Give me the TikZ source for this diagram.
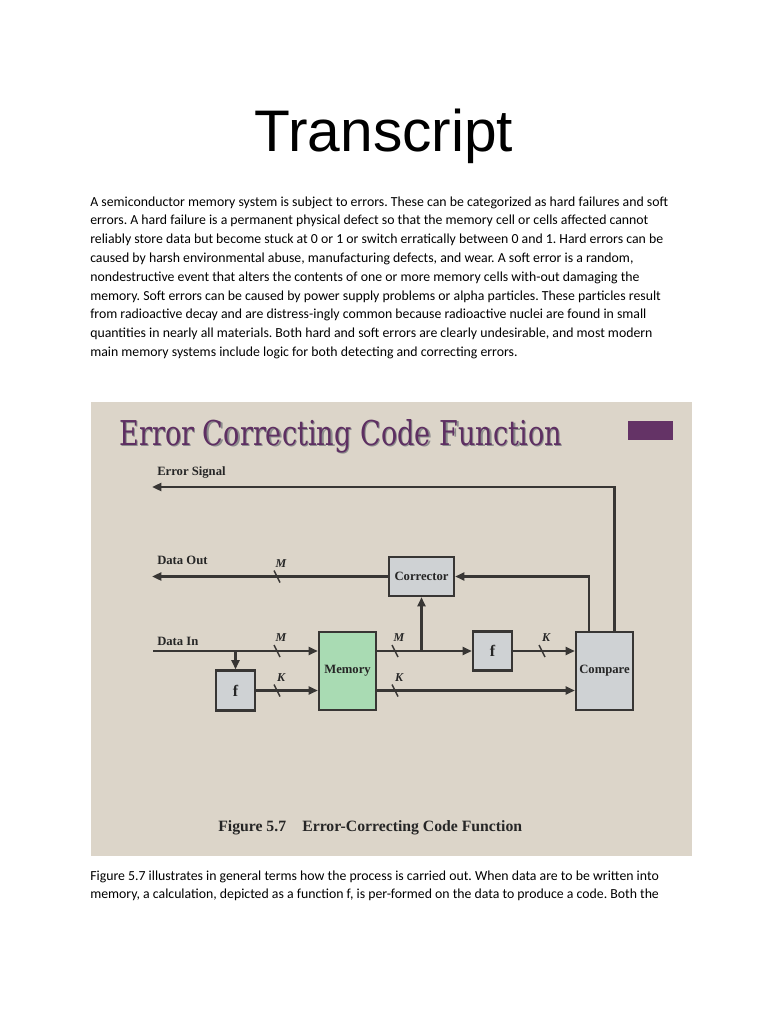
\documentclass[tikz,border=0pt]{standalone}
\usepackage{fontspec}
\setmainfont{Carlito}
\newfontfamily\arialf{Liberation Sans}
\newfontfamily\timesf{Liberation Serif}
\newfontfamily\slabf{DejaVu Serif}
\usetikzlibrary{arrows.meta}
\definecolor{bgbeige}{HTML}{DCD5C9}
\definecolor{boxgray}{HTML}{CFD2D4}
\definecolor{memgreen}{HTML}{A9DBB3}
\definecolor{wirecol}{HTML}{383634}
\definecolor{ttlpurple}{HTML}{5E2F62}
\definecolor{rectpurple}{HTML}{643366}
\tikzset{
  body/.style={anchor=base west, inner sep=0pt, font=\frenchspacing\fontsize{10.35}{12}\selectfont},
  wire/.style={draw=wirecol, line width=1.7pt},
  arr/.style={-{Triangle[length=7pt,width=6pt]}},
  gbox/.style={draw=wirecol, fill=boxgray, line width=1.7pt, inner sep=0pt,
    font=\timesf\bfseries\fontsize{9.5}{11}\selectfont, text=black!85},
  lbl/.style={anchor=base west, inner sep=0pt, font=\timesf\bfseries\fontsize{9.5}{11}\selectfont, text=black!85},
  buslbl/.style={inner sep=0pt, font=\timesf\bfseries\itshape\fontsize{9}{10}\selectfont, text=black!85},
  slash/.style={draw=wirecol, line width=1.1pt}
}
\newcommand{\busmark}[3]{%
  \draw[slash] (#1-3,#2-6) -- (#1+3,#2+6);
  \node[buslbl] at (#1+4,#2-13) {#3};
}
\begin{document}
\begin{tikzpicture}[x=0.75pt,y=-0.75pt]
\useasboundingbox (0,0) rectangle (768,1024);
\fill[white] (0,0) rectangle (768,1024);

% page title
\node[anchor=base, inner sep=0pt, font=\arialf\fontsize{44}{50}\selectfont] (ttl) at (384,151) {Transcript};

% first paragraph
\node[body] (p1) at (90,206) {A semiconductor memory system is subject to errors. These can be categorized as hard failures and soft};
\node[body] (p2) at (90,224.8) {errors. A hard failure is a permanent physical defect so that the memory cell or cells affected cannot};
\node[body] (p3) at (90,243.6) {reliably store data but become stuck at 0 or 1 or switch erratically between 0 and 1. Hard errors can be};
\node[body] (p4) at (90,262.4) {caused by harsh environmental abuse, manufacturing defects, and wear. A soft error is a random,};
\node[body] (p5) at (90,281.2) {nondestructive event that alters the contents of one or more memory cells with-out damaging the};
\node[body] (p6) at (90,300) {memory. Soft errors can be caused by power supply problems or alpha particles. These particles result};
\node[body] (p7) at (90,318.8) {from radioactive decay and are distress-ingly common because radioactive nuclei are found in small};
\node[body] (p8) at (90,337.6) {quantities in nearly all materials. Both hard and soft errors are clearly undesirable, and most modern};
\node[body] (p9) at (90,356.4) {main memory systems include logic for both detecting and correcting errors.};

% figure background
\fill[bgbeige] (91,402) rectangle (692,856);
\fill[rectpurple] (628,421) rectangle (673,440);
\node[anchor=base west, inner sep=0pt, text=black!45] (ecsh) at (120.5,446.5)
  {\resizebox{332pt}{19.5pt}{\slabf Error Correcting Code Function}};
\node[anchor=base west, inner sep=0pt, text=ttlpurple] (ec) at (119,445)
  {\resizebox{332pt}{19.5pt}{\slabf Error Correcting Code Function}};

% boxes
\node[gbox, minimum width=48.75pt, minimum height=29.25pt] (corr) at (421.5,576.5) {Corrector};
\node[gbox, fill=memgreen, minimum width=42.75pt, minimum height=58.5pt] (mem) at (347.5,671) {Memory};
\node[gbox, minimum width=29.25pt, minimum height=30pt, font=\timesf\bfseries\fontsize{12}{14}\selectfont] (fL) at (235.5,690.5) {f};
\node[gbox, minimum width=29.25pt, minimum height=29.25pt, font=\timesf\bfseries\fontsize{12}{14}\selectfont] (fR) at (492.5,651) {f};
\node[gbox, minimum width=42.75pt, minimum height=58.5pt] (comp) at (604.5,671) {Compare};

% labels
\node[lbl] (les) at (157,475) {Error Signal};
\node[lbl] (ldo) at (157,564) {Data Out};
\node[lbl] (ldi) at (157,645) {Data In};

% free ends
\coordinate (es) at (152,487);
\coordinate (dout) at (152,576.5);
\coordinate (din) at (153,651);

% connectors
\draw[wire,arr] (din) -- (mem.west |- din);
\draw[wire,arr] (fL.north |- din) -- (fL.north);
\draw[wire,arr] (fL.east) -- (fL.east -| mem.west);
\draw[wire,arr] (mem.east |- fR.west) -- (fR.west);
\draw[wire,arr] (mem.east |- fL.east) -- (comp.west |- fL.east);
\draw[wire,arr] (fR.east) -- (comp.west |- fR.east);
\draw[wire,arr] (corr.south |- fR.west) -- (corr.south);
\draw[wire,arr] ([xshift=-11.6pt]comp.north) |- (corr.east);
\draw[wire,arr] ([xshift=7.5pt]comp.north) |- (es);
\draw[wire,arr] (corr.west) -- (dout);

% bus width marks
\busmark{277}{576.5}{M}
\busmark{277}{651}{M}
\busmark{277}{690.5}{K}
\busmark{395}{651}{M}
\busmark{395}{690.5}{K}
\busmark{542}{651}{K}

% caption
\node[anchor=base west, inner sep=0pt, font=\timesf\bfseries\fontsize{11.8}{14}\selectfont, text=black!85] (cap1) at (218,831) {Figure 5.7};
\node[anchor=base west, inner sep=0pt, font=\timesf\bfseries\fontsize{11.8}{14}\selectfont, text=black!85] (cap2) at (302,831) {Error-Correcting Code Function};

% second paragraph
\node[body] (q1) at (90,880) {Figure 5.7 illustrates in general terms how the process is carried out. When data are to be written into};
\node[body] (q2) at (90,898.8) {memory, a calculation, depicted as a function f, is per-formed on the data to produce a code. Both the};
\end{tikzpicture}
\end{document}
